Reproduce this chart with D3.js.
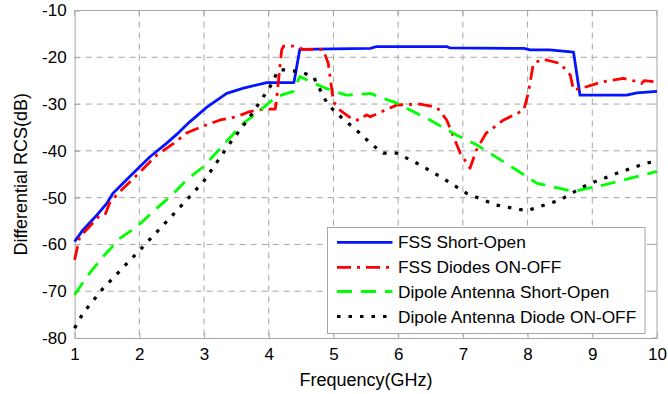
<!DOCTYPE html>
<html>
<head>
<meta charset="utf-8">
<script src="https://cdn.jsdelivr.net/npm/d3@7"></script>
<style>
  html, body { margin: 0; padding: 0; background: #fff; }
  svg { display: block; font-family: "Liberation Sans", Arial, sans-serif; }
</style>
</head>
<body>
<svg id="chart" width="668" height="394"></svg>
<script>
// Frequency sweep results (GHz, dB)
const fssShortOpen = [
  [1.0,-59.4],[1.13,-56.9],[1.32,-54.1],[1.5,-51.2],[1.59,-49.1],[1.88,-45.1],
  [2.17,-41.2],[2.42,-38.4],[2.6,-36.2],[2.78,-33.8],[3.04,-30.7],[3.35,-27.7],
  [3.61,-26.6],[3.97,-25.4],[4.39,-25.4],[4.48,-18.3],[5.0,-18.2],[5.57,-18.1],
  [5.67,-17.7],[6.75,-17.7],[6.8,-18.0],[7.94,-18.1],[8.04,-18.4],[8.34,-18.4],
  [8.71,-18.9],[8.81,-28.1],[9.53,-28.1],[9.69,-27.6],[10.0,-27.3]
];
const fssDiodes = [
  [1.0,-63.3],[1.08,-58.3],[1.21,-56.5],[1.37,-54.1],[1.47,-53.7],[1.55,-50.9],
  [1.7,-48.7],[1.96,-45.2],[2.27,-40.9],[2.53,-38.4],[2.73,-36.2],[2.99,-34.7],
  [3.25,-33.4],[3.5,-32.7],[3.71,-31.6],[3.92,-31.1],[4.1,-31.1],[4.12,-29.1],
  [4.2,-18.4],[4.23,-17.6],[4.38,-17.6],[4.53,-18.3],[4.84,-18.3],[4.92,-21.3],
  [5.0,-29.5],[5.1,-31.3],[5.31,-33.4],[5.41,-33.4],[5.51,-32.3],[5.57,-32.7],
  [5.98,-30.2],[6.34,-30.0],[6.6,-30.7],[6.75,-33.4],[6.96,-40.5],[7.11,-43.7],
  [7.21,-39.8],[7.36,-36.2],[7.63,-33.4],[7.94,-31.3],[8.01,-27.7],[8.09,-21.3],
  [8.24,-20.4],[8.5,-21.3],[8.66,-23.8],[8.71,-27.0],[8.91,-26.3],[9.17,-25.2],
  [9.48,-24.5],[9.69,-25.2],[9.76,-25.6],[9.8,-25.0],[10.0,-25.3]
];
const dipoleShortOpen = [
  [1.0,-70.8],[1.19,-66.9],[1.44,-62.6],[1.7,-58.7],[1.96,-56.2],[2.27,-52.3],
  [2.53,-49.1],[2.73,-46.2],[2.99,-43.4],[3.3,-38.7],[3.61,-34.1],[3.87,-31.3],
  [4.12,-28.4],[4.38,-27.3],[4.48,-24.1],[4.64,-25.2],[4.95,-27.0],[5.2,-28.1],
  [5.51,-27.8],[5.57,-27.7],[5.77,-28.8],[5.98,-29.8],[6.49,-33.4],[6.9,-36.6],
  [7.21,-38.7],[7.83,-44.1],[8.14,-46.9],[8.71,-48.7],[9.17,-47.3],[9.58,-45.9],
  [10.0,-44.4]
];
const dipoleDiode = [
  [1.0,-77.9],[1.13,-74.7],[1.44,-69.4],[1.96,-61.9],[2.47,-54.4],[2.99,-46.6],
  [3.4,-38.4],[3.71,-32.7],[4.02,-26.3],[4.15,-22.7],[4.28,-22.7],[4.48,-23.1],
  [4.69,-24.1],[4.9,-29.8],[5.05,-32.0],[5.44,-36.6],[5.57,-38.4],[5.77,-40.5],
  [5.98,-40.5],[6.34,-43.0],[6.65,-45.5],[7.06,-49.1],[7.52,-51.6],[7.99,-52.8],
  [8.5,-50.5],[8.91,-47.3],[9.38,-44.8],[9.84,-42.6],[10.0,-42.2]
];

const seriesNames = ["FSS Short-Open","FSS Diodes ON-OFF","Dipole Antenna Short-Open","Dipole Antenna Diode ON-OFF"];
const xTicks = [1,2,3,4,5,6,7,8,9,10];
const yTicks = [-80,-70,-60,-50,-40,-30,-20,-10];

const series = [
  { name: seriesNames[0], data: fssShortOpen,    color: "#0514ff", dash: null,        width: 2.8 },
  { name: seriesNames[1], data: fssDiodes,       color: "#ff0000", dash: "14,6,3,6",  width: 2.8 },
  { name: seriesNames[2], data: dipoleShortOpen, color: "#00ff00", dash: "15,9",      width: 2.8 },
  { name: seriesNames[3], data: dipoleDiode,     color: "#000000", dash: "3.5,8",     width: 3.2 }
];

const svg = d3.select("#chart");
const m = { left: 74.6, right: 657, top: 10.5, bottom: 338 };

const x = d3.scaleLinear().domain([1, 10]).range([m.left, m.right]);
const y = d3.scaleLinear().domain([-80, -10]).range([m.bottom, m.top]);

const gridColor = "#a6a6a6";
const fontFam = "'Liberation Sans', Arial, sans-serif";

// Grid lines
const grid = svg.append("g");
grid.selectAll("line.vx").data(xTicks.slice(1, -1)).enter().append("line")
  .attr("x1", d => x(d)).attr("x2", d => x(d))
  .attr("y1", m.top).attr("y2", m.bottom)
  .attr("stroke", gridColor).attr("stroke-width", 1).attr("stroke-dasharray", "6,5");
grid.selectAll("line.hy").data(yTicks.slice(1, -1)).enter().append("line")
  .attr("y1", d => y(d)).attr("y2", d => y(d))
  .attr("x1", m.left).attr("x2", m.right)
  .attr("stroke", gridColor).attr("stroke-width", 1).attr("stroke-dasharray", "6,5");

// Axes
const xAxis = d3.axisBottom(x).tickValues(xTicks).tickFormat(d3.format("d")).tickSizeInner(-5).tickSizeOuter(0).tickPadding(10);
const yAxis = d3.axisLeft(y).tickValues(yTicks).tickFormat(d => d).tickSizeInner(-5).tickSizeOuter(0).tickPadding(8);
const gx = svg.append("g").attr("transform", `translate(0,${m.bottom})`).call(xAxis);
const gy = svg.append("g").attr("transform", `translate(${m.left},0)`).call(yAxis);
[gx, gy].forEach(g => {
  g.selectAll("path.domain").attr("stroke", gridColor);
  g.selectAll(".tick line").attr("stroke", gridColor);
  g.selectAll(".tick text").attr("fill", "#000").style("font-size", "17px")
    .style("font-family", fontFam);
});
// Top and right borders
svg.append("line").attr("x1", m.left).attr("x2", m.right).attr("y1", m.top).attr("y2", m.top).attr("stroke", gridColor);
svg.append("line").attr("x1", m.right).attr("x2", m.right).attr("y1", m.top).attr("y2", m.bottom).attr("stroke", gridColor);
// Ticks on top and right edges
svg.selectAll("line.tt").data(xTicks).enter().append("line")
  .attr("x1", d => x(d)).attr("x2", d => x(d)).attr("y1", m.top).attr("y2", m.top + 5).attr("stroke", gridColor);
svg.selectAll("line.tr").data(yTicks).enter().append("line")
  .attr("y1", d => y(d)).attr("y2", d => y(d)).attr("x1", m.right).attr("x2", m.right - 5).attr("stroke", gridColor);

// Series lines
const line = d3.line().x(d => x(d[0])).y(d => y(d[1]));
const plot = svg.append("g");
series.forEach(s => {
  plot.append("path").datum(s.data)
    .attr("d", line)
    .attr("fill", "none")
    .attr("stroke", s.color)
    .attr("stroke-width", s.width)
    .attr("stroke-linejoin", "round")
    .attr("stroke-dasharray", s.dash);
});

// Axis titles
svg.append("text").attr("x", 366).attr("y", 386)
  .attr("text-anchor", "middle").style("font-size", "18px").text("Frequency(GHz)");
svg.append("text").attr("transform", `translate(26.5,${(m.top + m.bottom) / 2}) rotate(-90)`)
  .attr("text-anchor", "middle").style("font-size", "18px").text("Differential RCS(dB)");

// Legend
const lg = svg.append("g");
lg.append("rect").attr("x", 327.5).attr("y", 227.5).attr("width", 317.5).attr("height", 106)
  .attr("fill", "#fff").attr("stroke", gridColor).attr("stroke-width", 1);
const rowY = [242.3, 267.3, 291.5, 316.5];
series.forEach((s, i) => {
  lg.append("line").attr("x1", 337).attr("x2", 392.5).attr("y1", rowY[i]).attr("y2", rowY[i])
    .attr("stroke", s.color).attr("stroke-width", s.width).attr("stroke-dasharray", s.dash);
  lg.append("text").attr("x", 398).attr("y", rowY[i] + 6).style("font-size", "17.3px").text(s.name);
});
</script>
</body>
</html>
